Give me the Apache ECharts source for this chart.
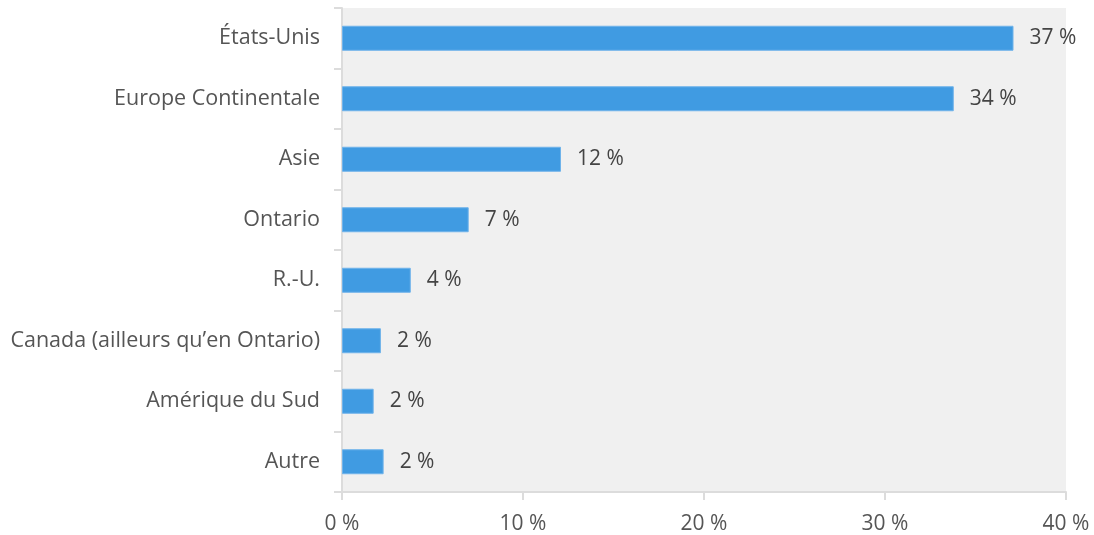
<!DOCTYPE html>
<html>
<head>
<meta charset="utf-8">
<script src="https://cdn.jsdelivr.net/npm/echarts@6/dist/echarts.min.js"></script>
<style>
  html, body { margin: 0; padding: 0; background: #ffffff; }
  #chart { width: 1094px; height: 535px; }
</style>
</head>
<body>
<div id="chart"></div>
<script>
// Provenance of the respondents, share in percent
const categories = [
  'États-Unis',
  'Europe Continentale',
  'Asie',
  'Ontario',
  'R.-U.',
  'Canada (ailleurs qu’en Ontario)',
  'Amérique du Sud',
  'Autre'
];
const shares = [37.1, 33.8, 12.1, 7.0, 3.8, 2.15, 1.75, 2.3];
const xTicks = [0, 10, 20, 30, 40];

const FONT = '"Open Sans", "Noto Sans", sans-serif';
const chart = echarts.init(document.getElementById('chart'));

chart.setOption({
  animation: false,
  grid: {
    left: 342, right: 28, top: 8, bottom: 43,
    show: true, backgroundColor: '#f0f0f0', borderWidth: 0
  },
  xAxis: {
    type: 'value',
    min: xTicks[0],
    max: xTicks[xTicks.length - 1],
    interval: 10,
    axisLine: { show: true, lineStyle: { color: '#dcdcdc', width: 2 } },
    axisTick: { show: true, length: 8, lineStyle: { color: '#dcdcdc', width: 2 } },
    splitLine: { show: false },
    axisLabel: {
      formatter: v => v + ' %',
      color: '#555555', fontFamily: FONT, fontSize: 21, margin: 22
    }
  },
  yAxis: {
    type: 'category',
    data: categories,
    inverse: true,
    axisLine: { show: true, lineStyle: { color: '#dcdcdc', width: 2 } },
    axisTick: { show: true, length: 8, lineStyle: { color: '#dcdcdc', width: 2 } },
    axisLabel: {
      color: '#555555', fontFamily: FONT, fontSize: 21.5, margin: 22,
      padding: [4, 0, 0, 0]
    }
  },
  series: [{
    type: 'bar',
    data: shares,
    barWidth: 25,
    itemStyle: { color: '#409be2', borderColor: '#6fb3ea', borderWidth: 1 },
    label: {
      show: true,
      position: 'right',
      distance: 16,
      formatter: p => Math.round(p.value) + ' %',
      color: '#444444', fontFamily: FONT, fontSize: 21
    }
  }]
});
</script>
</body>
</html>
